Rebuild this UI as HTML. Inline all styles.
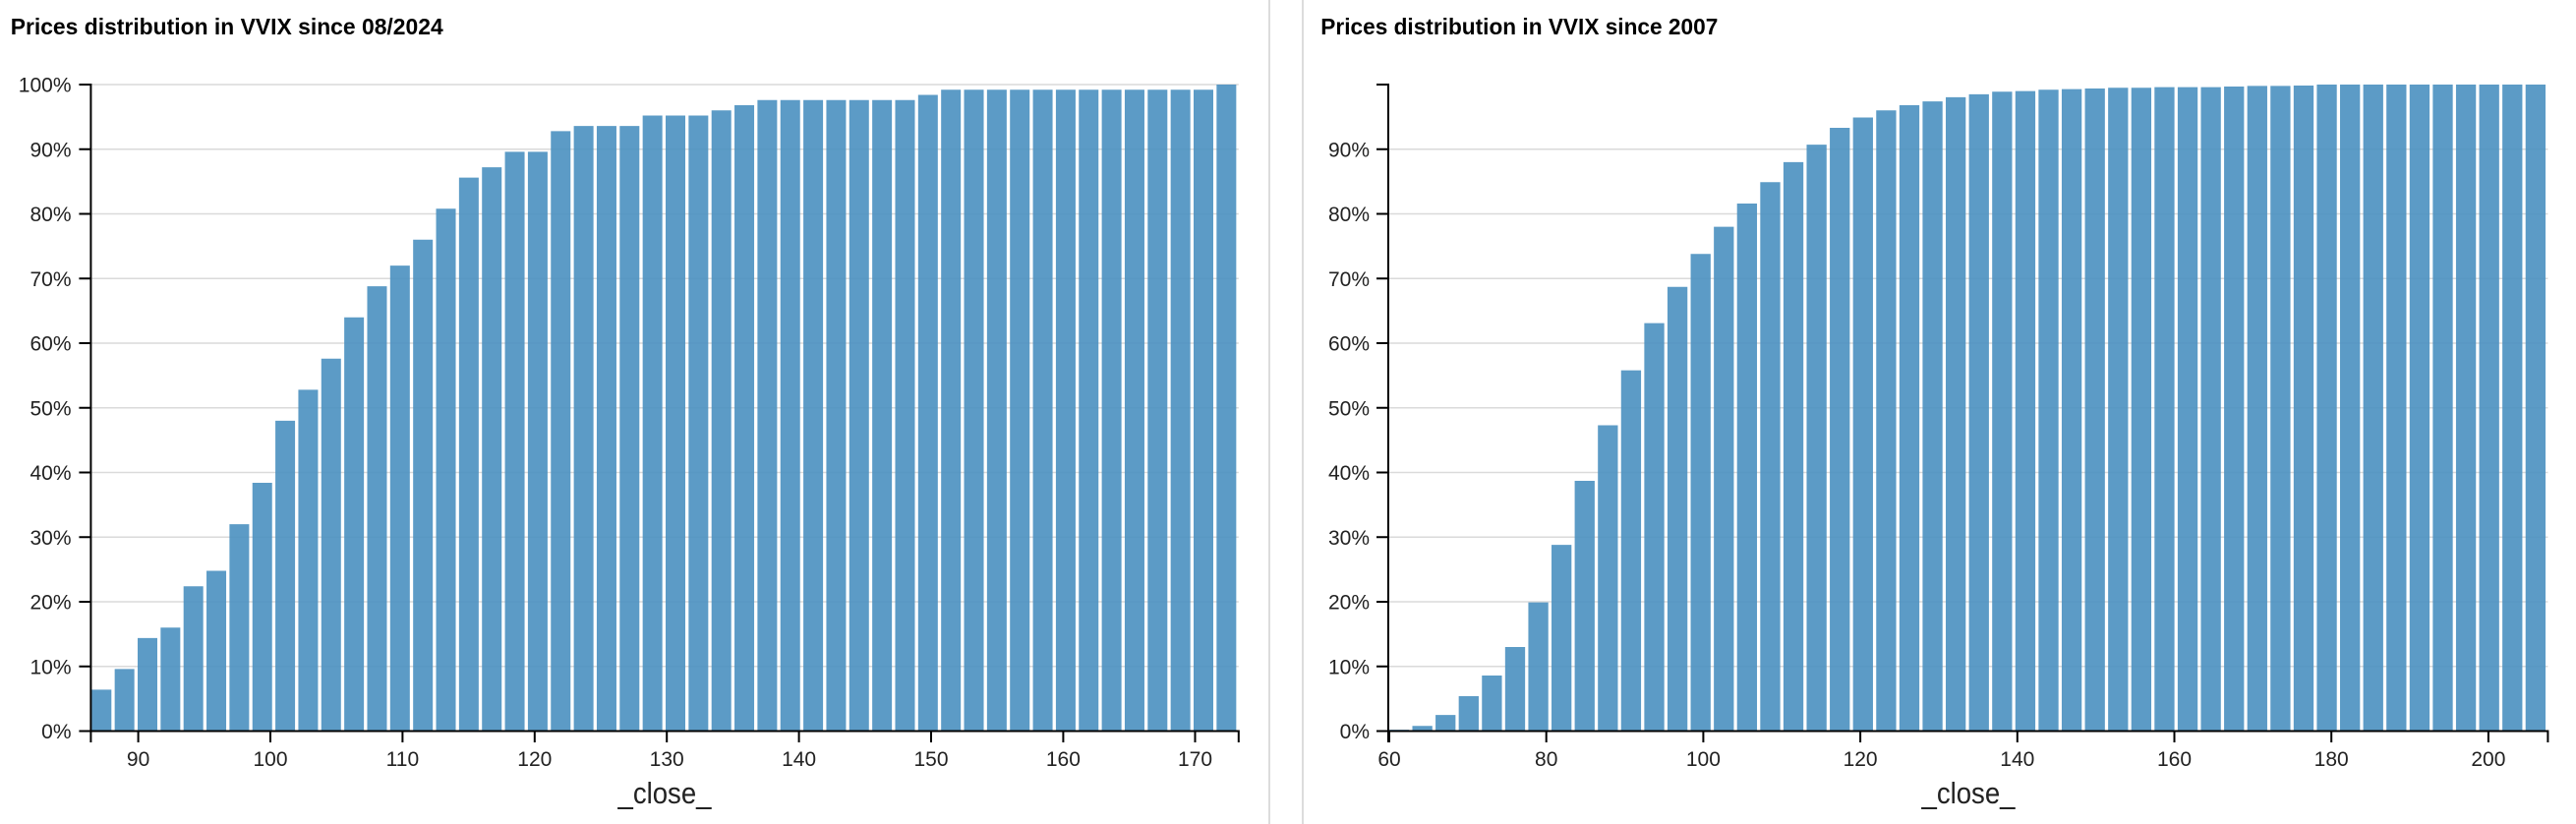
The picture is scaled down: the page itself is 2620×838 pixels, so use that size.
<!DOCTYPE html>
<html>
<head>
<meta charset="utf-8">
<style>
html,body{margin:0;padding:0;background:#fff;}
svg{display:block;}
.lbl{font-family:"Liberation Sans",sans-serif;font-size:21px;fill:#222;}
.ttl{font-family:"Liberation Sans",sans-serif;font-size:23px;font-weight:bold;fill:#000;}
.xl{font-family:"Liberation Sans",sans-serif;font-size:31px;fill:#222;}
</style>
</head>
<body>
<svg width="2620" height="838" viewBox="0 0 2620 838" xmlns="http://www.w3.org/2000/svg">
<rect x="0" y="0" width="2620" height="838" fill="#fff"/>
<path d="M1291,0V838M1325,0V838" stroke="#dcdcdc" stroke-width="2" fill="none"/>

<!-- LEFT CHART -->
<text class="ttl" x="10.7" y="35" textLength="440" lengthAdjust="spacingAndGlyphs">Prices distribution in VVIX since 08/2024</text>
<path stroke="#dadada" stroke-width="1.6" fill="none" d="M92.4,677.75H1259.8M92.4,612H1259.8M92.4,546.25H1259.8M92.4,480.5H1259.8M92.4,414.75H1259.8M92.4,349H1259.8M92.4,283.25H1259.8M92.4,217.5H1259.8M92.4,151.75H1259.8M92.4,86H1259.8"/>
<g transform="matrix(1,0,0,-6.575,0,743.5)">
<path fill="rgb(74,144,192)" fill-opacity="0.9" d="M93.3,0h20v6.4h-20z M116.65,0h20v9.6h-20z M140,0h20v14.4h-20z M163.34,0h20v16h-20z M186.69,0h20v22.4h-20z M210.04,0h20v24.8h-20z M233.39,0h20v32h-20z M256.74,0h20v38.4h-20z M280.08,0h20v48h-20z M303.43,0h20v52.8h-20z M326.78,0h20v57.6h-20z M350.13,0h20v64h-20z M373.48,0h20v68.8h-20z M396.82,0h20v72h-20z M420.17,0h20v76h-20z M443.52,0h20v80.8h-20z M466.87,0h20v85.6h-20z M490.22,0h20v87.2h-20z M513.56,0h20v89.6h-20z M536.91,0h20v89.6h-20z M560.26,0h20v92.8h-20z M583.61,0h20v93.6h-20z M606.96,0h20v93.6h-20z M630.3,0h20v93.6h-20z M653.65,0h20v95.2h-20z M677,0h20v95.2h-20z M700.35,0h20v95.2h-20z M723.7,0h20v96h-20z M747.04,0h20v96.8h-20z M770.39,0h20v97.6h-20z M793.74,0h20v97.6h-20z M817.09,0h20v97.6h-20z M840.44,0h20v97.6h-20z M863.78,0h20v97.6h-20z M887.13,0h20v97.6h-20z M910.48,0h20v97.6h-20z M933.83,0h20v98.4h-20z M957.18,0h20v99.2h-20z M980.52,0h20v99.2h-20z M1003.87,0h20v99.2h-20z M1027.22,0h20v99.2h-20z M1050.57,0h20v99.2h-20z M1073.92,0h20v99.2h-20z M1097.26,0h20v99.2h-20z M1120.61,0h20v99.2h-20z M1143.96,0h20v99.2h-20z M1167.31,0h20v99.2h-20z M1190.66,0h20v99.2h-20z M1214,0h20v99.2h-20z M1237.35,0h20v100h-20z"/>
</g>
<path stroke="#000" stroke-width="2" fill="none" d="M80.4,86H92.4V743.5H80.4 M92.4,755V743.5H1259.8V755 M80.4,677.75h12M80.4,612h12M80.4,546.25h12M80.4,480.5h12M80.4,414.75h12M80.4,349h12M80.4,283.25h12M80.4,217.5h12M80.4,151.75h12 M140.6,743.5v11.5M275,743.5v11.5M409.4,743.5v11.5M543.8,743.5v11.5M678.2,743.5v11.5M812.6,743.5v11.5M947,743.5v11.5M1081.4,743.5v11.5M1215.5,743.5v11.5"/>
<g class="lbl" text-anchor="end">
<text x="72.5" y="751">0%</text>
<text x="72.5" y="685.25">10%</text>
<text x="72.5" y="619.5">20%</text>
<text x="72.5" y="553.75">30%</text>
<text x="72.5" y="488">40%</text>
<text x="72.5" y="422.25">50%</text>
<text x="72.5" y="356.5">60%</text>
<text x="72.5" y="290.75">70%</text>
<text x="72.5" y="225">80%</text>
<text x="72.5" y="159.25">90%</text>
<text x="72.5" y="93.5">100%</text>
</g>
<g class="lbl" text-anchor="middle">
<text x="140.6" y="779">90</text>
<text x="275" y="779">100</text>
<text x="409.4" y="779">110</text>
<text x="543.8" y="779">120</text>
<text x="678.2" y="779">130</text>
<text x="812.6" y="779">140</text>
<text x="947" y="779">150</text>
<text x="1081.4" y="779">160</text>
<text x="1215.5" y="779">170</text>
</g>
<text class="xl" x="628.5" y="817" textLength="95" lengthAdjust="spacingAndGlyphs">_close_</text>

<!-- RIGHT CHART -->
<text class="ttl" x="1343.3" y="35" textLength="404" lengthAdjust="spacingAndGlyphs">Prices distribution in VVIX since 2007</text>
<path stroke="#dadada" stroke-width="1.6" fill="none" d="M1412,677.75H2591.4M1412,612H2591.4M1412,546.25H2591.4M1412,480.5H2591.4M1412,414.75H2591.4M1412,349H2591.4M1412,283.25H2591.4M1412,217.5H2591.4M1412,151.75H2591.4"/>
<g transform="matrix(1,0,0,-6.575,0,743.5)">
<path fill="rgb(74,144,192)" fill-opacity="0.9" d="M1412.9,0h20.3v0.2h-20.3z M1436.49,0h20.3v0.8h-20.3z M1460.08,0h20.3v2.5h-20.3z M1483.66,0h20.3v5.4h-20.3z M1507.25,0h20.3v8.6h-20.3z M1530.84,0h20.3v13h-20.3z M1554.43,0h20.3v19.9h-20.3z M1578.02,0h20.3v28.8h-20.3z M1601.6,0h20.3v38.7h-20.3z M1625.19,0h20.3v47.3h-20.3z M1648.78,0h20.3v55.8h-20.3z M1672.37,0h20.3v63.1h-20.3z M1695.96,0h20.3v68.7h-20.3z M1719.54,0h20.3v73.8h-20.3z M1743.13,0h20.3v78h-20.3z M1766.72,0h20.3v81.6h-20.3z M1790.31,0h20.3v84.9h-20.3z M1813.9,0h20.3v88h-20.3z M1837.48,0h20.3v90.7h-20.3z M1861.07,0h20.3v93.3h-20.3z M1884.66,0h20.3v94.9h-20.3z M1908.25,0h20.3v96h-20.3z M1931.84,0h20.3v96.8h-20.3z M1955.42,0h20.3v97.4h-20.3z M1979.01,0h20.3v98.05h-20.3z M2002.6,0h20.3v98.5h-20.3z M2026.19,0h20.3v98.9h-20.3z M2049.78,0h20.3v99h-20.3z M2073.36,0h20.3v99.2h-20.3z M2096.95,0h20.3v99.3h-20.3z M2120.54,0h20.3v99.4h-20.3z M2144.13,0h20.3v99.5h-20.3z M2167.72,0h20.3v99.5h-20.3z M2191.3,0h20.3v99.6h-20.3z M2214.89,0h20.3v99.6h-20.3z M2238.48,0h20.3v99.6h-20.3z M2262.07,0h20.3v99.7h-20.3z M2285.66,0h20.3v99.8h-20.3z M2309.24,0h20.3v99.8h-20.3z M2332.83,0h20.3v99.85h-20.3z M2356.42,0h20.3v100h-20.3z M2380.01,0h20.3v100h-20.3z M2403.6,0h20.3v100h-20.3z M2427.18,0h20.3v100h-20.3z M2450.77,0h20.3v100h-20.3z M2474.36,0h20.3v100h-20.3z M2497.95,0h20.3v100h-20.3z M2521.54,0h20.3v100h-20.3z M2545.12,0h20.3v100h-20.3z M2568.71,0h20.3v100h-20.3z"/>
</g>
<path stroke="#000" stroke-width="2" fill="none" d="M1400,86H1412V743.5H1400 M1412,755V743.5H2591.4V755 M1400,677.75h12M1400,612h12M1400,546.25h12M1400,480.5h12M1400,414.75h12M1400,349h12M1400,283.25h12M1400,217.5h12M1400,151.75h12 M1413,743.5v11.5M1572.7,743.5v11.5M1732.4,743.5v11.5M1892.1,743.5v11.5M2051.8,743.5v11.5M2211.5,743.5v11.5M2371.2,743.5v11.5M2530.9,743.5v11.5"/>
<g class="lbl" text-anchor="end">
<text x="1393" y="751">0%</text>
<text x="1393" y="685.25">10%</text>
<text x="1393" y="619.5">20%</text>
<text x="1393" y="553.75">30%</text>
<text x="1393" y="488">40%</text>
<text x="1393" y="422.25">50%</text>
<text x="1393" y="356.5">60%</text>
<text x="1393" y="290.75">70%</text>
<text x="1393" y="225">80%</text>
<text x="1393" y="159.25">90%</text>
</g>
<g class="lbl" text-anchor="middle">
<text x="1413" y="779">60</text>
<text x="1572.7" y="779">80</text>
<text x="1732.4" y="779">100</text>
<text x="1892.1" y="779">120</text>
<text x="2051.8" y="779">140</text>
<text x="2211.5" y="779">160</text>
<text x="2371.2" y="779">180</text>
<text x="2530.9" y="779">200</text>
</g>
<text class="xl" x="1954.5" y="817" textLength="95" lengthAdjust="spacingAndGlyphs">_close_</text>
</svg>
</body>
</html>
